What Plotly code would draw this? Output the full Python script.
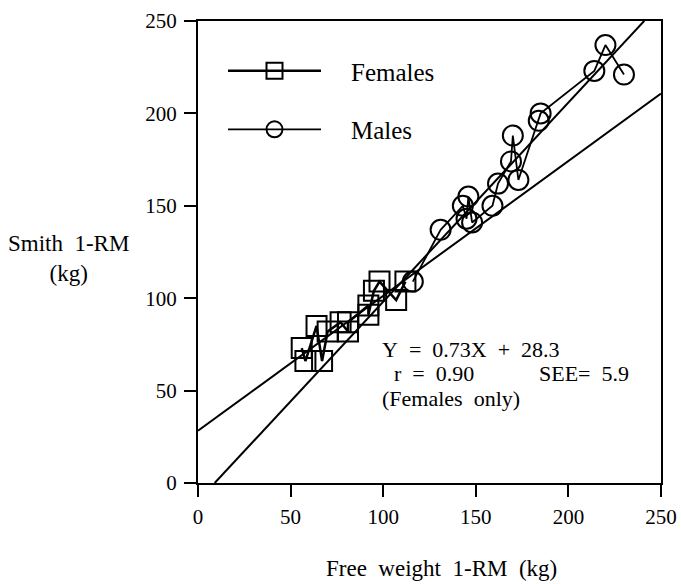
import numpy as np
import plotly.graph_objects as go

# Data
fem_x = [56, 58, 64, 67, 70, 77, 81, 81, 92, 92, 95, 98, 107, 112]
fem_y = [73, 66, 85, 66, 82, 87, 82, 87, 96, 91, 104, 109, 99, 109]
male_x = [116, 131, 143, 145, 146, 148, 159, 162, 169, 170, 173, 184, 185, 214, 220, 230]
male_y = [109, 137, 150, 143, 155, 141, 150, 162, 174, 188, 164, 196, 200, 223, 237, 221]

# Regression lines (slope, intercept, x-range)
fem_fit = (0.73, 28.3, [0, 250])
all_fit = (1.078, -9.7, [9, 241])

tick_vals = [0, 50, 100, 150, 200, 250]
tick_text = ["0", "50", "100", "150", "200", "250"]

FONT = "Liberation Serif"
NB = "\u00a0"

fig = go.Figure()

for slope, icpt, xr in (fem_fit, all_fit):
    xs = np.array(xr, dtype=float)
    fig.add_trace(go.Scatter(x=xs, y=slope * xs + icpt, mode="lines",
                             line=dict(color="black", width=2), showlegend=False,
                             hoverinfo="skip"))

fig.add_trace(go.Scatter(x=fem_x, y=fem_y, mode="lines+markers",
                         name=NB * 4 + "Females", legendgroup="f",
                         line=dict(color="black", width=2.5),
                         marker=dict(symbol="square-open", size=20, color="black",
                                     line=dict(width=2, color="black"))))
fig.add_trace(go.Scatter(x=male_x, y=male_y, mode="lines+markers",
                         name=NB * 4 + "Males", legendgroup="m",
                         line=dict(color="black", width=1.8),
                         marker=dict(symbol="circle-open", size=20, color="black",
                                     line=dict(width=2, color="black"))))

ann = [
    ("Y" + NB * 2 + "=" + NB * 2 + "0.73X" + NB * 2 + "+" + NB * 2 + "28.3", 98.3, 72.4),
    ("r" + NB * 2 + "=" + NB * 2 + "0.90", 104.6, 59.0),
    ("SEE=" + NB * 2 + "5.9", 182.9, 59.0),
    ("(Females" + NB * 2 + "only)", 98.3, 45.9),
]
for txt, xv, yv in ann:
    fig.add_annotation(x=xv, y=yv, xref="x", yref="y", text=txt, showarrow=False,
                       xanchor="left", yanchor="middle",
                       font=dict(family=FONT, size=22, color="black"))

fig.add_annotation(x=-0.279, y=0.487, xref="paper", yref="paper",
                   text="Smith" + NB * 2 + "1-RM<br>(kg)", showarrow=False,
                   xanchor="center", yanchor="middle", align="center",
                   font=dict(family=FONT, size=23, color="black"))
fig.add_annotation(x=0.525, y=-0.186, xref="paper", yref="paper",
                   text="Free" + NB * 2 + "weight" + NB * 2 + "1-RM" + NB * 2 + "(kg)",
                   showarrow=False, xanchor="center", yanchor="middle",
                   font=dict(family=FONT, size=23, color="black"))

axis_common = dict(range=[0, 250], tickvals=tick_vals, ticktext=tick_text,
                   showgrid=False, zeroline=False, showline=True, linecolor="black",
                   linewidth=2, mirror=True, ticks="outside", ticklen=12,
                   tickwidth=2, tickcolor="black", automargin=False,
                   tickfont=dict(family=FONT, size=21, color="black"))

fig.update_xaxes(**axis_common, ticklabelstandoff=2)
fig.update_yaxes(**axis_common, ticklabelstandoff=3)

fig.update_layout(
    width=681, height=584,
    margin=dict(l=198, r=20, t=21, b=101),
    plot_bgcolor="white", paper_bgcolor="white",
    font=dict(family=FONT, size=25, color="black"),
    legend=dict(x=0.054, y=0.9415, xanchor="left", yanchor="top",
                bgcolor="rgba(0,0,0,0)", itemwidth=93, tracegroupgap=23,
                traceorder="grouped", font=dict(family=FONT, size=25, color="black")),
)

# remove the browser's default 8px body margin so the figure fills the window
fig.write_html("out.html", config={"displayModeBar": False},
               post_script="document.body.style.margin='0';"
                           "document.body.style.overflow='hidden';")
